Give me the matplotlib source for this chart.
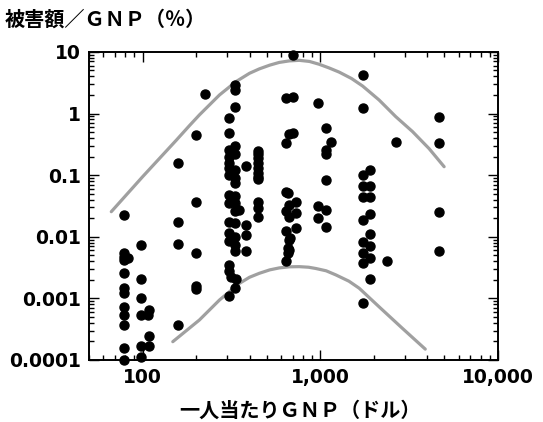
import matplotlib.pyplot as plt
from matplotlib.ticker import FixedLocator, LogLocator, NullFormatter

plt.rcParams['font.family'] = ['Noto Sans CJK JP', 'DejaVu Sans']

# per-capita GNP (US$) and damage / GNP (%) of each disaster
gnp = (
    [79] * 12 + [83]
    + [98] * 6 + [107, 109, 109, 109]
    + [158] * 4 + [200] * 5 + [225]
    + [305] * 15
    + [330] * 16 + [315, 337]
    + [351] + [383] * 4 + [444] * 11
    + [641] * 6 + [705] * 3 + [670] * 5 + [660] * 3 + [730] * 3 + [680]
    + [966] * 3 + [1077] * 6 + [1148]
    + [1730] * 10 + [1900] * 8 + [2390, 2660]
    + [4670] * 4
)
damage = (
    [0.0229, 0.0055, 0.00475, 0.0042, 0.00261, 0.00146, 0.00124,
     0.000718, 0.000538, 0.00037, 0.000158, 0.0001, 0.00448]
    + [0.00736, 0.00207, 0.001, 0.000538, 0.00017, 0.000113,
       0.000538, 0.00065, 0.000245, 0.00017]
    + [0.16, 0.0172, 0.0076, 0.00037]
    + [0.44, 0.037, 0.0054, 0.0016, 0.0014]
    + [2.1]
    + [0.84, 0.49, 0.26, 0.195, 0.16, 0.13, 0.1, 0.048, 0.035, 0.0175,
       0.0114, 0.0085, 0.0035, 0.0028, 0.00109]
    + [2.9, 2.4, 1.29, 0.3, 0.22, 0.12, 0.09, 0.074, 0.045, 0.035, 0.026,
       0.0165, 0.01, 0.0074, 0.0058, 0.00146, 0.0022, 0.0021]
    + [0.027]
    + [0.14, 0.0154, 0.0107, 0.0058]
    + [0.25, 0.22, 0.19, 0.16, 0.13, 0.11, 0.095, 0.085, 0.037, 0.029, 0.021]
    + [1.77, 0.33, 0.054, 0.026, 0.0126, 0.004]
    + [8.9, 1.88, 0.48]
    + [0.46, 0.033, 0.0213, 0.0089, 0.0061]
    + [0.051, 0.0065, 0.0054]
    + [0.037, 0.024, 0.014]
    + [0.0095]
    + [1.47, 0.031, 0.02]
    + [0.59, 0.26, 0.22, 0.082, 0.027, 0.0146]
    + [0.35]
    + [4.2, 1.22, 0.1, 0.066, 0.044, 0.019, 0.0082, 0.0054, 0.0037, 0.00085]
    + [0.12, 0.066, 0.044, 0.023, 0.0112, 0.007, 0.0045, 0.0021]
    + [0.004, 0.35]
    + [0.89, 0.33, 0.0256, 0.0058]
)

# envelope curves
upper_x = [66.7, 100, 155, 184, 209, 271, 336, 400, 454, 520, 588, 670, 762,
           870, 986, 1120, 1278, 1500, 1730, 2143, 2660, 3304, 4095, 4980]
upper_y = [0.0255, 0.094, 0.37, 0.64, 0.95, 2.0, 3.3, 4.5, 5.3, 6.1, 6.75,
           7.15, 7.3, 7.0, 6.3, 5.5, 4.7, 3.7, 2.8, 1.66, 0.89, 0.51, 0.27,
           0.137]
lower_x = [148, 209, 271, 351, 400, 454, 520, 588, 670, 762, 860, 946, 1080,
           1225, 1450, 1657, 2143, 2897, 3900]
lower_y = [0.000198, 0.000446, 0.00094, 0.00175, 0.0022, 0.00255, 0.0029,
           0.00312, 0.00325, 0.00327, 0.0032, 0.00305, 0.0028, 0.0024,
           0.0019, 0.00146, 0.00073, 0.000327, 0.00015]

x_ticks = [100, 1000, 10000]
x_labels = ['100', '1,000', '10,000']
y_ticks = [0.0001, 0.001, 0.01, 0.1, 1, 10]
y_labels = ['0.0001', '0.001', '0.01', '0.1', '1', '10']

fig = plt.figure(figsize=(5.43, 4.22), dpi=100)
ax = fig.add_axes([0.164, 0.147, 0.753, 0.730])

ax.plot(upper_x, upper_y, color='#a0a0a0', lw=2.3, solid_capstyle='round',
        solid_joinstyle='round')
ax.plot(lower_x, lower_y, color='#a0a0a0', lw=2.3, solid_capstyle='round',
        solid_joinstyle='round')
ax.plot(gnp, damage, 'o', color='black', ms=6.5, clip_on=False, zorder=3)

ax.set_xscale('log')
ax.set_yscale('log')
ax.set_xlim(50, 10000)
ax.set_ylim(0.0001, 10)

ax.xaxis.set_major_locator(FixedLocator(x_ticks))
ax.set_xticklabels(x_labels)
ax.yaxis.set_major_locator(FixedLocator(y_ticks))
ax.set_yticklabels(y_labels)
ax.xaxis.set_minor_locator(LogLocator(base=10, subs=range(2, 10)))
ax.yaxis.set_minor_locator(LogLocator(base=10, subs=range(2, 10)))
ax.xaxis.set_minor_formatter(NullFormatter())
ax.yaxis.set_minor_formatter(NullFormatter())

ax.tick_params(which='both', direction='in', top=True, right=True,
               width=1.0, colors='black')
ax.tick_params(which='major', length=7, pad=6)
ax.tick_params(which='minor', length=3.5)
for lab in ax.get_xticklabels() + ax.get_yticklabels():
    lab.set_family('DejaVu Sans')
    lab.set_fontweight('bold')
    lab.set_fontsize(13.5)

for s in ax.spines.values():
    s.set_linewidth(1.4)

fig.text(0.009, 0.955, '被害額／ＧＮＰ（％）', fontsize=14.5, fontweight='bold',
         ha='left', va='center')
fig.text(0.553, 0.028, '一人当たりＧＮＰ（ドル）', fontsize=14.5,
         fontweight='bold', ha='center', va='center')

fig.savefig('out.png', dpi=100)
